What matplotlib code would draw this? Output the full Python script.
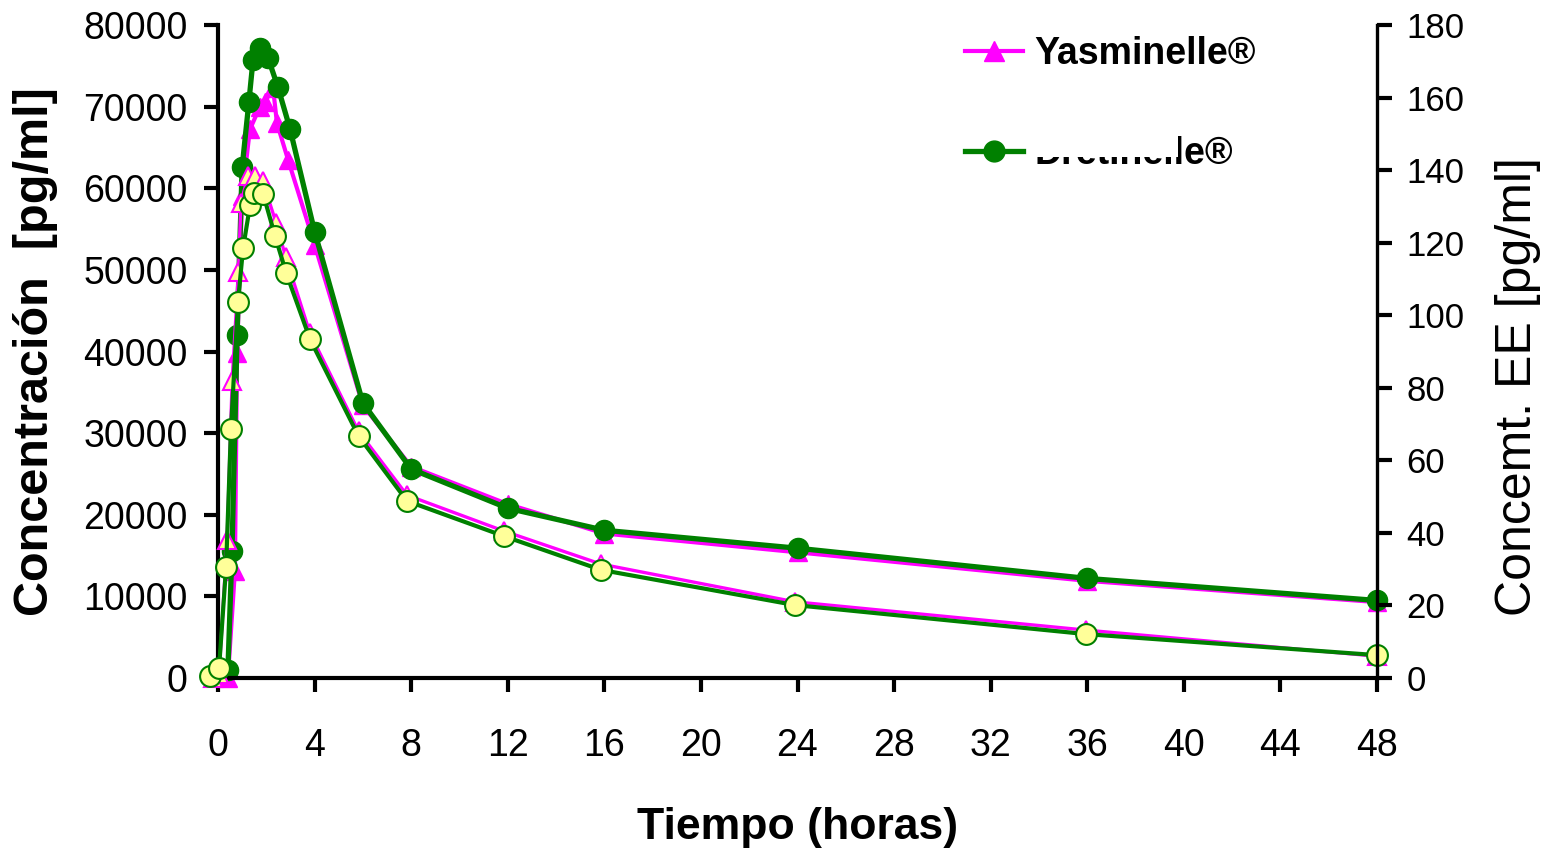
import matplotlib
matplotlib.use('Agg')
import matplotlib.pyplot as plt
from matplotlib.lines import Line2D
from matplotlib.patches import Rectangle

plt.rcParams['font.family'] = ['Liberation Sans', 'DejaVu Sans']

# drospirenona, eje izquierdo (pg/ml)
t_yas = [0.41, 0.7, 0.79, 1.0, 1.32, 1.74, 1.95, 2.28, 2.44, 2.9, 4, 6, 8, 12, 16, 24, 36, 48]
drsp_yas = [0, 13100, 39800, 59000, 67200, 70000, 70600, 72300, 68000, 63500, 53100,
            33400, 25900, 21300, 17700, 15400, 11900, 9300]
t_dre = [0.41, 0.58, 0.79, 1.0, 1.28, 1.45, 1.74, 2.07, 2.48, 2.98, 4, 6, 8, 12, 16, 24, 36, 48]
drsp_dre = [1000, 15600, 42000, 62600, 70600, 75700, 77200, 76000, 72400, 67300, 54700,
            33700, 25600, 20800, 18100, 15900, 12200, 9500]

# etinilestradiol, eje derecho (pg/ml)
t_ee_yas = [0, 0.25, 0.58, 0.79, 1.05, 1.15, 1.45, 1.75, 2.05, 2.6, 3.0, 4, 6, 8, 12, 16, 24, 36, 48]
ee_yas = [0, 1, 38, 82, 112, 131, 138.5, 138.5, 137, 125.5, 116, 95, 68, 50.4, 40.5, 31.4, 21, 13.2, 6.0]
t_ee_dre = [-0.12, 0.25, 0.54, 0.74, 1.03, 1.24, 1.53, 1.69, 2.07, 2.56, 3.02, 4, 6, 8, 12, 16, 24, 36, 48]
ee_dre = [0.5, 2.8, 30.6, 68.6, 103.6, 118.5, 130.4, 133.7, 133.4, 121.8, 111.6, 93.4,
          66.7, 48.8, 39.1, 29.8, 20.1, 12.1, 6.3]

labels = ['Yasminelle®', 'Dretinelle®']
x_ticks = list(range(0, 49, 4))
y_ticks = list(range(0, 80001, 10000))
ee_ticks = list(range(0, 181, 20))

magenta = '#FF00FF'
green = '#008000'
yellow = '#FFFF99'

fig = plt.figure(figsize=(15.51, 8.52), dpi=100)
rect = [218 / 1551, 1 - 678 / 852, (1377 - 218) / 1551, (678 - 25) / 852]
ax = fig.add_axes(rect)

ax.plot(t_yas, drsp_yas, color=magenta, lw=3, marker='^', ms=13,
        mfc=magenta, mec=magenta, clip_on=False)
ax.plot(t_dre, drsp_dre, color=green, lw=3.8, marker='o', ms=14.5,
        mfc=green, mec=green, clip_on=False)

ax.set_xlim(0, 48)
ax.set_ylim(0, 80000)
ax.set_xticks(x_ticks)
ax.set_yticks(y_ticks)
ax.spines['top'].set_visible(False)
ax.spines['right'].set_visible(False)
ax.spines['left'].set_linewidth(3)
ax.spines['bottom'].set_linewidth(3)
ax.tick_params(axis='both', direction='out', length=10, width=3, labelsize=27)
ax.tick_params(axis='x', pad=26)
ax.tick_params(axis='y', pad=12)

ax.set_ylabel('Concentración  [pg/ml]', fontsize=35, fontweight='bold')
ax.yaxis.set_label_coords(-0.138, 0.5)
ax.set_xlabel('Tiempo (horas)', fontsize=32, fontweight='bold', labelpad=31)

# eje secundario con su propia escala de tiempo, como en el original
ax2 = fig.add_axes(rect, label='ee')
ax2.patch.set_visible(False)
ax2.plot(t_ee_yas, ee_yas, color=magenta, lw=2.4, marker='^', ms=13,
         mfc=yellow, mec=magenta, mew=1.5, clip_on=False)
ax2.plot(t_ee_dre, ee_dre, color=green, lw=3, marker='o', ms=15,
         mfc=yellow, mec=green, mew=1.5, clip_on=False)
ax2.set_xlim(0.206, 48)
ax2.set_ylim(0, 180)
ax2.set_yticks(ee_ticks)
ax2.xaxis.set_visible(False)
ax2.yaxis.tick_right()
ax2.yaxis.set_label_position('right')
for s in ['top', 'left', 'bottom']:
    ax2.spines[s].set_visible(False)
ax2.spines['right'].set_linewidth(2.4)
ax2.tick_params(axis='y', direction='out', length=11, width=3, labelsize=25, pad=10)
ax2.set_ylabel('Concemt. EE [pg/ml]', fontsize=36)
ax2.yaxis.set_label_coords(1.102, 0.446)

handles = [
    Line2D([], [], color=magenta, lw=3, marker='^', ms=14, mfc=magenta, mec=magenta),
    Line2D([], [], color=green, lw=3.8, marker='o', ms=15, mfc=green, mec=green),
]
leg = ax2.legend(handles, labels, loc='upper left', bbox_to_anchor=(965 / 1551, 1 - 36 / 852),
                 bbox_transform=fig.transFigure, frameon=False, borderpad=0, borderaxespad=0,
                 handlelength=1.55, handletextpad=0.3, labelspacing=1.72,
                 prop={'size': 27, 'weight': 'bold'})

# en el original la segunda etiqueta queda tapada en parte
fig.add_artist(Rectangle((1030 / 1551, 1 - 157 / 852), 148 / 1551, 40 / 852,
                         transform=fig.transFigure, facecolor='white', edgecolor='none', zorder=10))

fig.savefig('out.png', dpi=100)
